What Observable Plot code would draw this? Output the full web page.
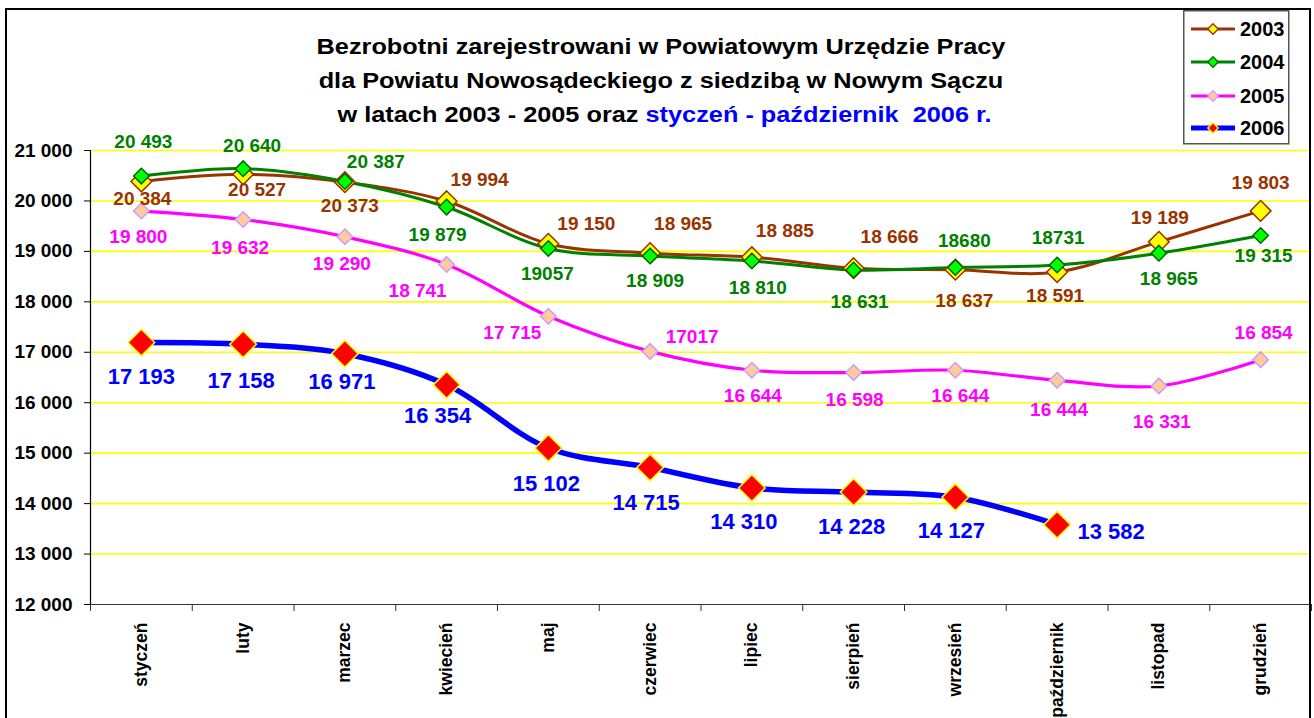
<!DOCTYPE html>
<html>
<head>
<meta charset="utf-8">
<script src="https://cdn.jsdelivr.net/npm/d3@7"></script>
<script src="https://cdn.jsdelivr.net/npm/@observablehq/plot@0.6"></script>
<style>
  body { margin: 0; background: #fff; }
  #wrap { position: relative; width: 1314px; height: 718px; overflow: hidden;
          font-family: "Liberation Sans", Arial, sans-serif; background: #fff; }
  #chart { position: absolute; left: 0; top: 0; }
  #frame { position: absolute; left: 5px; top: 8px; width: 1306px; height: 730px;
           border: 2px solid #000; box-sizing: border-box; pointer-events: none; }
  #title { position: absolute; left: 0; top: 30px; width: 1322px; text-align: center;
           font-weight: bold; font-size: 22px; line-height: 34px; color: #000; white-space: pre;
           transform: scaleX(1.15); transform-origin: 661px 0; }
  #title .blue { color: #0000FF; }
  #legend { position: absolute; left: 1183px; top: 10px; }
</style>
</head>
<body>
<div id="wrap">
  <div id="chart"></div>
  <div id="frame"></div>
  <div id="title"><div>Bezrobotni zarejestrowani w Powiatowym Urzędzie Pracy</div><div>dla Powiatu Nowosądeckiego z siedzibą w Nowym Sączu</div><div><span> w latach 2003 - 2005 oraz</span><span> </span><span class="blue">styczeń - październik  2006 r.</span></div></div>
  <div id="legend"></div>
</div>
<script>
// ---- data ----
const months = ["styczeń","luty","marzec","kwiecień","maj","czerwiec","lipiec","sierpień","wrzesień","październik","listopad","grudzień"];
const years = ["2003","2004","2005","2006"];
const v2003 = [20384,20527,20373,19994,19150,18965,18885,18666,18637,18591,19189,19803];
const v2004 = [20493,20640,20387,19879,19057,18909,18810,18631,18680,18731,18965,19315];
const v2005 = [19800,19632,19290,18741,17715,17017,16644,16598,16644,16444,16331,16854];
const v2006 = [17193,17158,16971,16354,15102,14715,14310,14228,14127,13582];
const yTicks = [12000,13000,14000,15000,16000,17000,18000,19000,20000,21000];
// labels that the original shows without the thousands space
const unspaced = {"2004": [4, 8, 9], "2005": [5]};

// ---- label placement (pixel offsets from each point) ----
const off2003 = [[1,17],[14,16],[5,24],[33,-21],[38,-20],[33,-29],[33,-26],[36,-31],[9,31],[-2,24],[1,-24],[0,-28]];
const off2004 = [[2,-34],[9,-23],[31,-20],[-9,28],[-1,25],[5,25],[6,27],[6,32],[9,-27],[1,-27],[10,26],[3,20]];
const off2005 = [[-3,26],[-3,28],[-3,27],[-29,26],[-36,17],[42,-15],[1,26],[1,27],[5,26],[2,30],[3,36],[3,-27]];
const off2006 = [[0,34],[-2,37],[-3,28],[-9,31],[-2,36],[-4,35],[-8,34],[-2,35],[-4,34],[54,7]];

// ---- styles ----
const styles = {
  "2003": {values: v2003, off: off2003, line: "#993300", lw: 3, fill: "#FFFF00", stroke: "#993300", r: 9.3, label: "#993300", fs: 19},
  "2004": {values: v2004, off: off2004, line: "#008000", lw: 3, fill: "#00FF00", stroke: "#006600", r: 7, label: "#008000", fs: 19},
  "2005": {values: v2005, off: off2005, line: "#FF00FF", lw: 3.2, fill: "#FFCC99", stroke: "#CC99FF", r: 7, label: "#FF00FF", fs: 19},
  "2006": {values: v2006, off: off2006, line: "#0000FF", lw: 5.5, fill: "#FF0000", stroke: "#FFFF00", r: 12, label: "#0000FF", fs: 22}
};

const fmt = v => d3.format(",")(v).replace(/,/g, " ");
const fmtLabel = (year, v, i) => (unspaced[year] || []).includes(i) ? String(v) : fmt(v);
const boundaries = d3.range(-0.5, 12, 1);

const marks = [];
// gridlines
marks.push(Plot.ruleY(yTicks.filter(t => t > 12000), {y: d => d, stroke: "#FFFF00", strokeWidth: 1.6}));
// axes lines
marks.push(Plot.ruleX([-0.5], {stroke: "#000", strokeWidth: 1.2}));
marks.push(Plot.ruleY([12000], {stroke: "#333", strokeWidth: 1.2}));
marks.push(Plot.axisY({ticks: yTicks, tickSize: 6, tickPadding: 12, tickFormat: fmt,
  fontSize: 19, fontWeight: "bold", fill: "#000", stroke: "#000"}));
marks.push(Plot.axisX({ticks: boundaries, tickSize: 7, tickFormat: () => "", stroke: "#333"}));
marks.push(Plot.text(months, {x: (d, i) => i, frameAnchor: "bottom", dy: 18, rotate: -90,
  textAnchor: "end", lineAnchor: "middle", fontSize: 17.5, fontWeight: "bold", fill: "#000", text: d => d}));

// lines
for (const y of years) {
  const s = styles[y];
  marks.push(Plot.line(s.values, {x: (d, i) => i, y: d => d, curve: "catmull-rom",
    stroke: s.line, strokeWidth: s.lw, strokeLinejoin: "round"}));
}
// markers
for (const y of years) {
  const s = styles[y];
  marks.push(Plot.dot(s.values, {x: (d, i) => i, y: d => d, symbol: "diamond2", r: s.r,
    fill: s.fill, stroke: s.stroke, strokeWidth: 1.5}));
}
// value labels
for (const y of years) {
  const s = styles[y];
  s.values.forEach((v, i) => {
    marks.push(Plot.text([v], {x: () => i, y: d => d, text: d => fmtLabel(y, d, i),
      dx: s.off[i][0], dy: s.off[i][1], fill: s.label, fontSize: s.fs, fontWeight: "bold",
      textAnchor: "middle", lineAnchor: "middle"}));
  });
}

const chart = Plot.plot({
  width: 1314, height: 718,
  marginTop: 150, marginBottom: 114, marginLeft: 90, marginRight: 3,
  x: {type: "linear", domain: [-0.5, 11.5], axis: null},
  y: {type: "linear", domain: [12000, 21000], axis: null},
  style: {fontFamily: "'Liberation Sans', Arial, sans-serif", background: "transparent", overflow: "visible"},
  marks
});
document.getElementById("chart").appendChild(chart);

// ---- legend ----
const lg = d3.select("#legend").append("svg").attr("width", 107).attr("height", 135)
  .style("font-family", "'Liberation Sans', Arial, sans-serif");
lg.append("rect").attr("x", 0.75).attr("y", 0.75).attr("width", 105).attr("height", 133)
  .attr("fill", "#fff").attr("stroke", "#555").attr("stroke-width", 1.5);
const legendY = [19, 52, 86, 118];
const diamond = d3.symbol(d3.symbolDiamond2, 70);
years.forEach((y, k) => {
  const s = styles[y];
  const cy = legendY[k];
  lg.append("line").attr("x1", 8).attr("x2", 52).attr("y1", cy).attr("y2", cy)
    .attr("stroke", s.line).attr("stroke-width", y === "2006" ? 5 : 3);
  lg.append("path").attr("d", diamond()).attr("transform", `translate(30,${cy})`)
    .attr("fill", s.fill).attr("stroke", s.stroke).attr("stroke-width", 1.3);
  lg.append("text").attr("x", 57).attr("y", cy).attr("dy", "0.35em")
    .attr("font-size", 20).attr("font-weight", "bold").attr("fill", "#000").text(y);
});
</script>
</body>
</html>
